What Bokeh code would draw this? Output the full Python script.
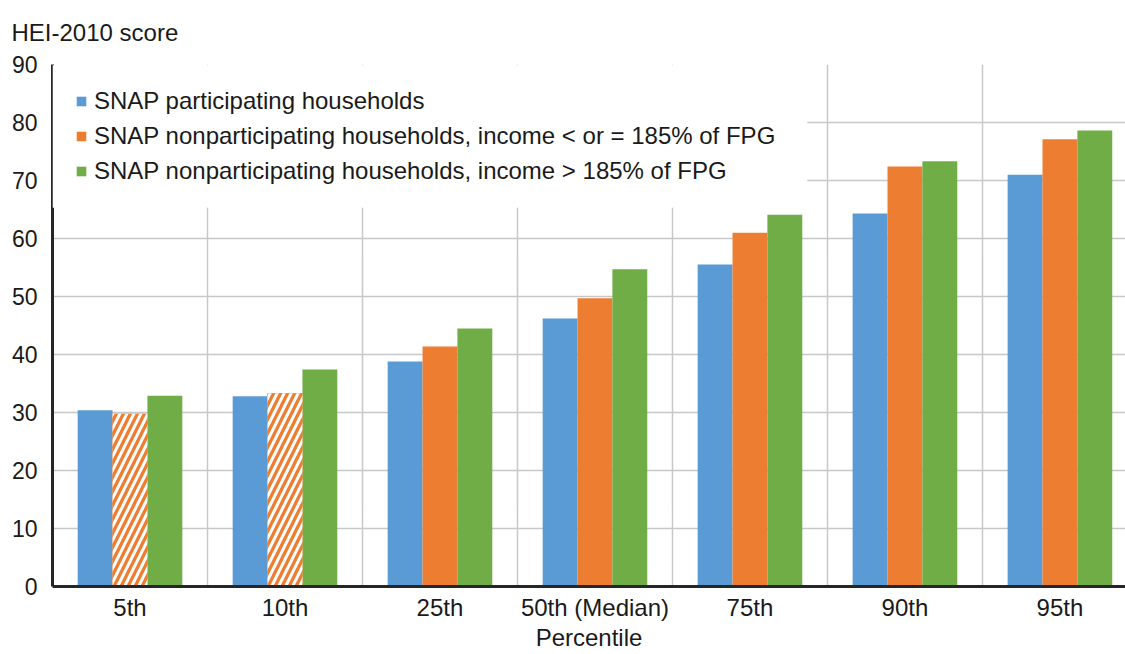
from bokeh.plotting import figure
from bokeh.models import (ColumnDataSource, FixedTicker, Range1d, Legend, LegendItem,
                          BoxAnnotation)
from bokeh.embed import file_html
from bokeh.resources import INLINE

# ---- data ----
categories = ["5th", "10th", "25th", "50th (Median)", "75th", "90th", "95th"]
snap_participating = [30.4, 32.8, 38.8, 46.2, 55.5, 64.3, 71.0]
nonpart_low_income = [29.8, 33.3, 41.4, 49.7, 61.0, 72.4, 77.1]
nonpart_high_income = [32.9, 37.4, 44.5, 54.7, 64.1, 73.3, 78.6]
low_income_hatched = [True, True, False, False, False, False, False]
series_names = [
    "SNAP participating households",
    "SNAP nonparticipating households, income < or = 185% of FPG",
    "SNAP nonparticipating households, income > 185% of FPG",
]
y_ticks = [0, 10, 20, 30, 40, 50, 60, 70, 80, 90]
x_title = "Percentile"
y_title = "HEI-2010 score"

colors = ["#5B9BD5", "#ED7D31", "#70AD47"]
FONT = "Liberation Sans"
TXT = "#1a1a1a"
BAR_W = 0.225

centers = [i + 0.5 for i in range(len(categories))]

p = figure(width=1125, height=654,
           x_range=Range1d(0, 6.923), y_range=Range1d(0, 90),
           output_backend="svg", toolbar_location=None,
           min_border_left=52, min_border_right=0,
           min_border_top=64, min_border_bottom=68)
p.outline_line_color = None
p.background_fill_color = "white"
p.border_fill_color = "white"

xax = p.below[0]
yax = p.left[0]

# title (y axis caption, top-left)
p.title.text = y_title
p.title.align = "left"
p.title.vertical_align = "top"
p.title.text_font = FONT
p.title.text_font_size = "24px"
p.title.text_font_style = "normal"
p.title.text_color = TXT
p.title.offset = -41
p.title.standoff = 34

renderers = []
for k, (vals, col) in enumerate(zip([snap_participating, nonpart_low_income, nonpart_high_income], colors)):
    off = (k - 1) * BAR_W
    src = ColumnDataSource(dict(x=[c + off for c in centers], top=vals))
    r = p.vbar(x="x", top="top", bottom=0, width=BAR_W, source=src,
               fill_color=col, line_color=None)
    renderers.append(r)

# hatched overlay for flagged estimates
hx = [c for c, h in zip(centers, low_income_hatched) if h]
hv = [v for v, h in zip(nonpart_low_income, low_income_hatched) if h]
hsrc = ColumnDataSource(dict(x=hx, top=hv))
p.vbar(x="x", top="top", bottom=0, width=BAR_W, source=hsrc,
       fill_color=colors[1], line_color=None,
       hatch_pattern="/", hatch_color="white", hatch_weight=3, hatch_scale=14)

# axes
yax.ticker = FixedTicker(ticks=y_ticks)
xax.ticker = FixedTicker(ticks=centers)
xax.major_label_overrides = {c: lab for c, lab in zip(centers, categories)}
for ax in (xax, yax):
    ax.major_tick_line_color = None
    ax.minor_tick_line_color = None
    ax.major_tick_out = 0
    ax.major_tick_in = 0
    ax.minor_tick_out = 0
    ax.minor_tick_in = 0
    ax.axis_line_color = "#262626"
    ax.axis_line_width = 3
    ax.major_label_text_font = FONT
    ax.major_label_text_font_size = "24px"
    ax.major_label_text_color = TXT
yax.major_label_text_font_size = "23px"
yax.major_label_standoff = 15
xax.major_label_standoff = 7
xax.axis_label = x_title
xax.axis_label_text_font = FONT
xax.axis_label_text_font_size = "24px"
xax.axis_label_text_font_style = "normal"
xax.axis_label_text_color = TXT
xax.axis_label_standoff = 0

# grid
p.ygrid.ticker = FixedTicker(ticks=y_ticks)
p.xgrid.ticker = FixedTicker(ticks=[1, 2, 3, 4, 5, 6, 7])
for g in (p.xgrid[0], p.ygrid[0]):
    g.grid_line_color = "#c8c8c8"
    g.grid_line_width = 1.5

# white legend panel hiding the grid behind the legend
p.add_layout(BoxAnnotation(left=0, right=4.87, bottom=65.3, top=89.86,
                           fill_color="white", fill_alpha=1.0, line_color=None))

legend = Legend(items=[LegendItem(label=n, renderers=[r]) for n, r in zip(series_names, renderers)],
                location="top_left", margin=23, padding=0, spacing=7,
                glyph_width=12, glyph_height=12, label_standoff=7, label_height=24,
                label_text_font=FONT, label_text_font_size="24px",
                label_text_color=TXT,
                border_line_color=None, background_fill_alpha=0.0)
p.add_layout(legend)

open("out.html", "w").write(file_html(p, INLINE))
